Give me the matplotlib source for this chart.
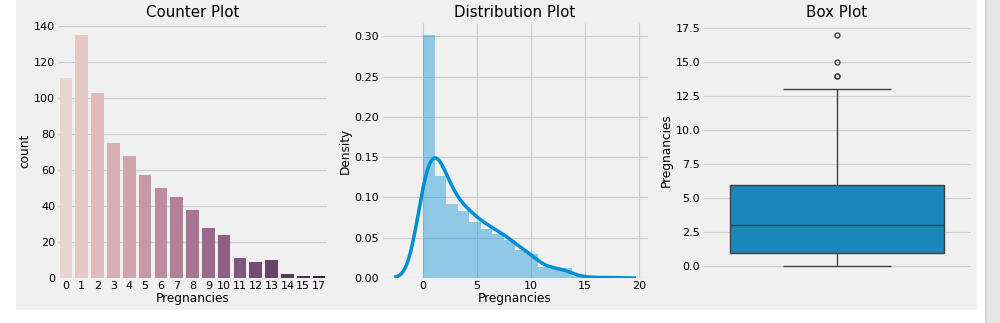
import warnings
warnings.filterwarnings("ignore")
import numpy as np
import pandas as pd
import matplotlib
matplotlib.use("Agg")
import matplotlib.pyplot as plt
import seaborn as sns
from matplotlib.patches import Rectangle

# ---- data (Pregnancies value counts) ----
preg_values = [0, 1, 2, 3, 4, 5, 6, 7, 8, 9, 10, 11, 12, 13, 14, 15, 17]
preg_counts = [111, 135, 103, 75, 68, 57, 50, 45, 38, 28, 24, 11, 9, 10, 2, 1, 1]
titles = ["Counter Plot", "Distribution Plot", "Box Plot"]

pregnancies = np.repeat(preg_values, preg_counts)
df = pd.DataFrame({"Pregnancies": pregnancies})

plt.style.use("fivethirtyeight")
plt.rcParams["font.family"] = ["DejaVu Sans"]

BG = "#f0f0f0"
fig = plt.figure(figsize=(10, 3.23), dpi=100, facecolor="white")
W, H = 1000, 323
fig.patches.append(Rectangle((16 / W, 1 - 310 / H), (977 - 16) / W, 310 / H,
                             transform=fig.transFigure, facecolor=BG, edgecolor="none", zorder=-10))
fig.patches.append(Rectangle((985 / W, 0), 15 / W, 1,
                             transform=fig.transFigure, facecolor="#e6e6e6", edgecolor="none", zorder=-10))
fig.patches.append(Rectangle((985 / W, 0), 2 / W, 1,
                             transform=fig.transFigure, facecolor="#d4d4d4", edgecolor="none", zorder=-10))

def px_axes(x0, x1, y0=23, y1=278):
    return fig.add_axes([x0 / W, 1 - y1 / H, (x1 - x0) / W, (y1 - y0) / H])

ax1 = px_axes(58, 327)
ax2 = px_axes(382, 648)
ax3 = px_axes(703, 971)

TICK = 8
LAB = 8.7
TIT = 10.8

# Counter plot
sns.countplot(data=df, x="Pregnancies", hue="Pregnancies", legend=False, ax=ax1)
ax1.set_ylabel("count", fontsize=LAB)
ax1.set_xlabel("Pregnancies", fontsize=LAB, labelpad=1)

# Distribution plot
sns.histplot(data=df, x="Pregnancies", bins=16, stat="density", alpha=0.4,
             linewidth=0, color="#008fd5", ax=ax2)
sns.kdeplot(data=df, x="Pregnancies", cut=3, color="#008fd5", linewidth=2.5, ax=ax2)
ax2.set_ylabel("Density", fontsize=LAB)
ax2.set_xlabel("Pregnancies", fontsize=LAB, labelpad=1)
ax2.set_xticks([0, 5, 10, 15, 20])

# Box plot
sns.boxplot(data=df, y="Pregnancies", color="#008fd5", ax=ax3,
            flierprops=dict(markersize=3.5))
ax3.set_ylabel("Pregnancies", fontsize=LAB)
ax3.set_xticks([])

for ax, t in zip([ax1, ax2, ax3], titles):
    ax.set_title(t, fontsize=TIT, pad=4)
    ax.set_facecolor(BG)
    ax.tick_params(labelsize=TICK, pad=2)
    ax.yaxis.labelpad = 2
    for s in ax.spines.values():
        s.set_visible(False)
    ax.grid(color="#cbcbcb", linewidth=0.8)
    ax.set_axisbelow(True)
ax1.xaxis.grid(False)
ax3.xaxis.grid(False)

fig.savefig("out.png", dpi=100, facecolor=fig.get_facecolor())
